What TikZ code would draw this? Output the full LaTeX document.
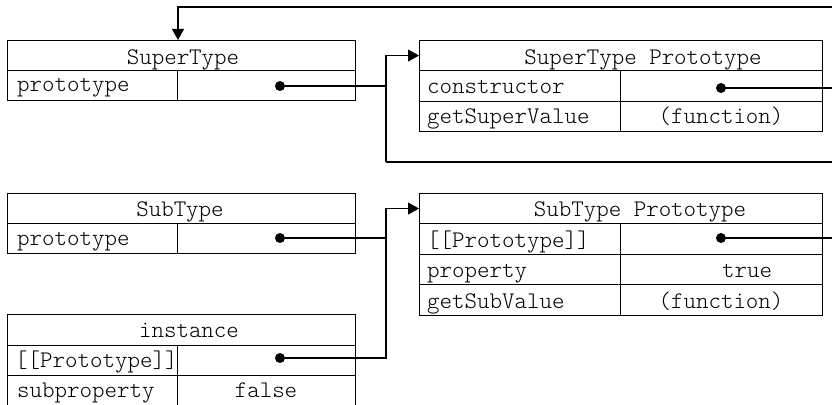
\documentclass[tikz,border=0pt]{standalone}
\usepackage{fontspec}
\setmonofont{Latin Modern Mono Light}
\usetikzlibrary{arrows.meta}
\begin{document}
\begin{tikzpicture}[x=1pt,y=-1pt,
  cell/.style={draw,line width=1.1pt,inner sep=0pt,anchor=north west},
  txt/.style={inner sep=0pt,font=\ttfamily\fontsize{23.8pt}{28pt}\selectfont},
  lt/.style={txt,anchor=base west},
  ct/.style={txt,anchor=base},
  dotn/.style={circle,fill=black,inner sep=0pt,minimum size=10pt},
  conn/.style={line width=1.1pt},
  arr/.style={conn,-{Triangle[length=11pt,width=12pt]}}]
\useasboundingbox (0,0) rectangle (832,404);
\clip (0,0) rectangle (832,404);
% SuperType
\node[cell,minimum width=348pt,minimum height=30pt] (stH) at (7,40) {};
\node[cell,minimum width=170pt,minimum height=30pt] (stL) at (7,70) {};
\node[cell,minimum width=178pt,minimum height=30pt] (stR) at (177,70) {};
\node[ct] at (183,64) {SuperType};
\node[lt] at (17,92) {prototype};
\node[dotn] (d1) at (280,86) {};
% SuperType Prototype
\node[cell,minimum width=403pt,minimum height=30pt] (spH) at (419,40) {};
\node[cell,minimum width=201pt,minimum height=31pt] (spL1) at (419,70) {};
\node[cell,minimum width=202pt,minimum height=31pt] (spR1) at (620,70) {};
\node[cell,minimum width=201pt,minimum height=30pt] (spL2) at (419,101) {};
\node[cell,minimum width=202pt,minimum height=30pt] (spR2) at (620,101) {};
\node[ct] at (643,64) {SuperType Prototype};
\node[lt] at (427,93) {constructor};
\node[lt] at (427,123) {getSuperValue};
\node[ct] at (721,123) {(function)};
\node[dotn] (d2) at (721,88) {};
% SubType
\node[cell,minimum width=348pt,minimum height=30pt] (sbH) at (7,193) {};
\node[cell,minimum width=170pt,minimum height=30pt] (sbL) at (7,223) {};
\node[cell,minimum width=178pt,minimum height=30pt] (sbR) at (177,223) {};
\node[ct] at (180,216) {SubType};
\node[lt] at (17,245) {prototype};
\node[dotn] (d3) at (280,238) {};
% instance
\node[cell,minimum width=348pt,minimum height=31pt] (inH) at (7,314) {};
\node[cell,minimum width=170pt,minimum height=30pt] (inL1) at (7,345) {};
\node[cell,minimum width=178pt,minimum height=30pt] (inR1) at (177,345) {};
\node[cell,minimum width=170pt,minimum height=32pt] (inL2) at (7,375) {};
\node[cell,minimum width=178pt,minimum height=32pt] (inR2) at (177,375) {};
\node[ct] at (189,337) {instance};
\node[lt] at (15,367) {[[Prototype]]};
\node[lt] at (17,397) {subproperty};
\node[ct] at (266,397) {false};
\node[dotn] (d4) at (280,358) {};
% SubType Prototype
\node[cell,minimum width=403pt,minimum height=30pt] (sbpH) at (419,193) {};
\node[cell,minimum width=201pt,minimum height=31pt] (sbpL1) at (419,223) {};
\node[cell,minimum width=202pt,minimum height=31pt] (sbpR1) at (620,223) {};
\node[cell,minimum width=201pt,minimum height=30pt] (sbpL2) at (419,254) {};
\node[cell,minimum width=202pt,minimum height=30pt] (sbpR2) at (620,254) {};
\node[cell,minimum width=201pt,minimum height=31pt] (sbpL3) at (419,284) {};
\node[cell,minimum width=202pt,minimum height=31pt] (sbpR3) at (620,284) {};
\node[ct] at (640,216) {SubType Prototype};
\node[lt] at (427,247) {[[Prototype]]};
\node[lt] at (427,277) {property};
\node[ct] at (747,277) {true};
\node[lt] at (427,308) {getSubValue};
\node[ct] at (721,308) {(function)};
\node[dotn] (d5) at (721,238) {};
% coordinates
\coordinate (topE) at (840,7);
\coordinate (stArr) at (178,40);
\coordinate (j1) at (386,86);
\coordinate (j2) at (386,162);
\coordinate (botE) at (840,162);
\coordinate (ctrE) at (840,88);
\coordinate (j3) at (386,238);
\coordinate (j4) at (386,358);
\coordinate (sbpE) at (840,238);
% connectors
\draw[arr] (topE) -| (stArr);
\draw[conn] (d1.center) -- (j1);
\draw[conn] (botE) -- (j2);
\draw[arr] (j2) |- (spH.west);
\draw[conn] (d2.center) -- (ctrE);
\draw[conn] (d3.center) -- (j3);
\draw[arr] (d4.center) -| (j4) |- (sbpH.west);
\draw[conn] (d5.center) -- (sbpE);
\end{tikzpicture}
\end{document}
